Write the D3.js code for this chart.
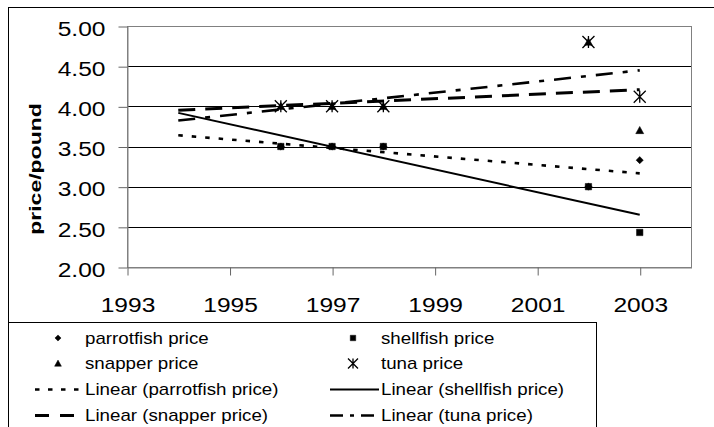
<!DOCTYPE html>
<html lang="en">
<head>
    <meta charset="UTF-8">
    <title>Fish prices</title>
    <style>
        body {
            margin: 0;
            background: #ffffff;
        }
        svg text {
            font-family: 'Liberation Sans', Arial, sans-serif;
            fill: #000;
        }
    </style>
</head>
<body>
    <div id="chart"></div>

    <script src="https://d3js.org/d3.v7.min.js"></script>
    <script>
        // data
        const years = [1996, 1997, 1998, 2002, 2003];
        const parrotfish = [3.50, 3.50, 3.50, 3.00, 3.33];
        const shellfish = [3.50, 3.50, 3.50, 3.00, 2.43];
        const snapper = [4.00, 4.00, 4.00, 4.80, 3.70];
        const tuna = [4.00, 4.00, 4.00, 4.80, 4.12];
        const seriesNames = ['parrotfish price', 'shellfish price', 'snapper price', 'tuna price'];
        const trendStart = 1994;
        const xTicks = [1993, 1995, 1997, 1999, 2001, 2003];
        const yTicks = [2.0, 2.5, 3.0, 3.5, 4.0, 4.5, 5.0];

        const width = 714, height = 427;
        const plot = { left: 127, right: 691, top: 26, bottom: 267 };
        const stretch = 1.17; // text in the picture is a bit wide

        const svg = d3.select('#chart')
            .append('svg')
            .attr('width', width)
            .attr('height', height);

        // chart frame (runs off the picture on the right and bottom)
        svg.append('rect')
            .attr('x', 8.5).attr('y', 7.5)
            .attr('width', 800).attr('height', 600)
            .attr('fill', 'none')
            .attr('stroke', '#000');

        const x = d3.scaleLinear().domain([1993, 2004]).range([plot.left, plot.right]);
        const y = d3.scaleLinear().domain([2, 5]).range([plot.bottom, plot.top]);

        // gridlines
        svg.append('g')
            .selectAll('line')
            .data(yTicks.filter(v => v > 2 && v < 5))
            .enter()
            .append('line')
            .attr('x1', plot.left).attr('x2', plot.right)
            .attr('y1', d => Math.round(y(d)) + 0.5)
            .attr('y2', d => Math.round(y(d)) + 0.5)
            .attr('stroke', '#000');

        // plot area border
        svg.append('rect')
            .attr('x', plot.left + 0.5).attr('y', plot.top + 0.5)
            .attr('width', plot.right - plot.left)
            .attr('height', plot.bottom - plot.top)
            .attr('fill', 'none')
            .attr('stroke', '#808080');

        // axes
        const yAxis = svg.append('g')
            .attr('transform', `translate(${plot.left + 0.5},0.5)`)
            .call(d3.axisLeft(y).tickValues(yTicks).tickSize(9).tickSizeOuter(0).tickFormat(d3.format('.2f')));
        yAxis.selectAll('text')
            .attr('x', 0)
            .attr('dy', '0.42em')
            .attr('transform', `translate(-22,0) scale(${stretch},1)`)
            .style('font-size', '21px');

        const xAxis = svg.append('g')
            .attr('transform', `translate(0.5,${plot.bottom + 0.5})`)
            .call(d3.axisBottom(x).tickValues(xTicks).tickSize(8).tickSizeOuter(0).tickFormat(d3.format('d')));
        xAxis.selectAll('text')
            .attr('y', 45)
            .attr('dy', 0)
            .attr('transform', `scale(${stretch},1)`)
            .style('font-size', '21px');

        [yAxis, xAxis].forEach(a => {
            a.select('.domain').attr('stroke', '#808080');
            a.selectAll('.tick line').attr('stroke', '#666');
            a.attr('font-family', null).attr('font-size', null);
        });

        // y axis title
        svg.append('text')
            .attr('transform', 'translate(41,169) rotate(-90) scale(1,0.75)')
            .attr('text-anchor', 'middle')
            .style('font-size', '23px')
            .style('font-weight', 'bold')
            .text('price/pound');

        // series styles
        const series = [
            { name: seriesNames[0], values: parrotfish, marker: 'diamond', dash: '4.5,9', width: 2.6 },
            { name: seriesNames[1], values: shellfish, marker: 'square', dash: null, width: 2 },
            { name: seriesNames[2], values: snapper, marker: 'triangle', dash: '17,10', width: 3 },
            { name: seriesNames[3], values: tuna, marker: 'star', dash: '17,10,5,10', width: 2.6 }
        ];

        // least squares trend for each series
        function trend(vals) {
            const mx = d3.mean(years), my = d3.mean(vals);
            const sxy = d3.sum(years, (t, i) => (t - mx) * (vals[i] - my));
            const sxx = d3.sum(years, t => (t - mx) * (t - mx));
            const b = sxy / sxx;
            return t => my + b * (t - mx);
        }

        function markerPath(type, s) {
            const p = d3.path();
            if (type === 'diamond') {
                p.moveTo(0, -s); p.lineTo(s, 0); p.lineTo(0, s); p.lineTo(-s, 0); p.closePath();
            } else if (type === 'square') {
                p.rect(-s, -s, 2 * s, 2 * s);
            } else if (type === 'triangle') {
                p.moveTo(0, -s); p.lineTo(s, s * 0.8); p.lineTo(-s, s * 0.8); p.closePath();
            } else {
                p.moveTo(-s, -s); p.lineTo(s, s);
                p.moveTo(s, -s); p.lineTo(-s, s);
                p.moveTo(0, -s); p.lineTo(0, s);
            }
            return p.toString();
        }

        function drawMarker(g, type, cx, cy, small) {
            const sizes = { diamond: 3.6, square: 3.2, triangle: 4, star: 6 };
            let s = sizes[type];
            if (small) s = type === 'star' ? 5 : s * 0.85;
            g.append('path')
                .attr('transform', `translate(${cx},${cy})`)
                .attr('d', markerPath(type, s))
                .attr('fill', type === 'star' ? 'none' : '#000')
                .attr('stroke', '#000')
                .attr('stroke-width', type === 'star' ? 1.3 : 0.5);
        }

        // trend lines
        const trendG = svg.append('g');
        series.forEach(s => {
            const f = trend(s.values);
            const endYear = d3.max(years);
            trendG.append('line')
                .attr('x1', x(trendStart)).attr('y1', y(f(trendStart)))
                .attr('x2', x(endYear)).attr('y2', y(f(endYear)))
                .attr('stroke', '#000')
                .attr('stroke-width', s.width)
                .attr('stroke-dasharray', s.dash);
        });

        // markers
        const markG = svg.append('g');
        series.forEach(s => {
            s.values.forEach((v, i) => drawMarker(markG, s.marker, x(years[i]), y(v), false));
        });

        // legend
        const legend = svg.append('g');
        legend.append('rect')
            .attr('x', 8.5).attr('y', 322.5)
            .attr('width', 588).attr('height', 200)
            .attr('fill', '#fff')
            .attr('stroke', '#000');

        const cols = [
            { marker: 58, l1: 35, l2: 80, text: 85 },
            { marker: 353, l1: 330, l2: 379, text: 381 }
        ];
        const rowY = [338, 363.5, 389.5, 415.5];

        const legendDash = ['4.5,8.5', null, '14,11', '13,7,4,7'];

        series.forEach((s, i) => {
            const c = cols[i % 2];
            const ry = rowY[Math.floor(i / 2)];
            drawMarker(legend, s.marker, c.marker, ry, true);
            legend.append('text')
                .attr('transform', `translate(${c.text},${ry + 5.5}) scale(${stretch},1)`)
                .style('font-size', '16px')
                .text(s.name);

            const ly = rowY[2 + Math.floor(i / 2)];
            legend.append('line')
                .attr('x1', c.l1).attr('x2', c.l2)
                .attr('y1', ly).attr('y2', ly)
                .attr('stroke', '#000')
                .attr('stroke-width', s.width)
                .attr('stroke-dasharray', legendDash[i]);
            legend.append('text')
                .attr('transform', `translate(${c.text},${ly + 5.5}) scale(${stretch},1)`)
                .style('font-size', '16px')
                .text('Linear (' + s.name + ')');
        });
    </script>
</body>
</html>
